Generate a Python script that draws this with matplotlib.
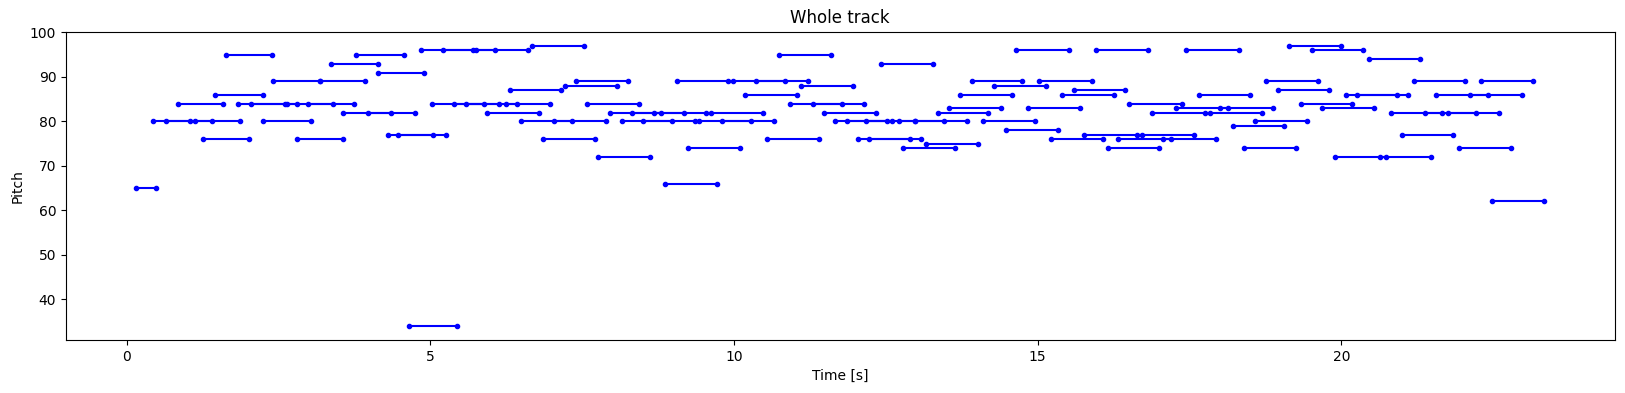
import matplotlib
matplotlib.use('Agg')
import matplotlib.pyplot as plt

# notes of the whole track: start time [s], end time [s], pitch
note_start = [
    0.16, 0.43, 0.64, 0.84, 1.12, 1.25, 1.45, 1.63, 1.84, 2.04, 2.24, 2.41, 2.64, 2.81, 2.99, 3.18,
    3.37, 3.57, 3.78, 3.97, 4.14, 4.31, 4.47, 4.65, 4.85, 5.03, 5.21, 5.39, 5.58, 5.75, 5.94, 6.25,
    6.32, 6.50, 6.68, 6.85, 7.04, 7.22, 7.40, 7.58, 7.76, 7.96, 8.15, 8.32, 8.50, 8.68, 8.87, 9.06,
    9.24, 9.42, 9.62, 9.80, 9.98, 10.18, 10.36, 10.54, 10.74, 10.92, 11.10, 11.30, 11.48, 11.66,
    11.86, 12.04, 12.18, 12.22, 12.42, 12.71, 12.78, 12.98, 13.16, 13.36, 13.54, 13.72, 13.92,
    14.10, 14.28, 14.48, 14.65, 14.84, 15.03, 15.22, 15.40, 15.59, 15.77, 15.96, 16.15, 16.33,
    16.51, 16.71, 16.89, 17.07, 17.27, 17.45, 17.65, 17.83, 18.01, 18.21, 18.39, 18.57, 18.76,
    18.95, 19.13, 19.33, 19.51, 19.68, 19.89, 20.07, 20.25, 20.45, 20.63, 20.81, 21.00, 21.19,
    21.37, 21.56, 21.75, 21.93, 22.12, 22.30, 22.48,
]
note_end = [
    0.49, 1.05, 1.40, 1.59, 1.86, 2.01, 2.24, 2.40, 2.61, 2.80, 3.04, 3.18, 3.39, 3.57, 3.75, 3.93,
    4.14, 4.36, 4.57, 4.75, 4.90, 5.05, 5.25, 5.44, 5.71, 5.89, 6.06, 6.13, 6.43, 6.61, 6.79, 6.97,
    7.15, 7.34, 7.53, 7.71, 7.89, 8.07, 8.26, 8.44, 8.62, 8.80, 8.98, 9.18, 9.36, 9.54, 9.72, 9.90,
    10.10, 10.28, 10.48, 10.66, 10.84, 11.04, 11.22, 11.40, 11.60, 11.78, 11.96, 12.14, 12.34, 12.52,
    12.60, 12.90, 12.98, 13.08, 13.27, 13.46, 13.64, 13.83, 14.01, 14.19, 14.39, 14.57, 14.75,
    14.95, 15.13, 15.33, 15.51, 15.69, 15.89, 16.07, 16.25, 16.43, 16.63, 16.81, 16.99, 17.19,
    17.37, 17.57, 17.75, 17.93, 18.13, 18.31, 18.49, 18.69, 18.87, 19.05, 19.25, 19.43, 19.61,
    19.80, 19.99, 20.17, 20.36, 20.54, 20.73, 20.92, 21.10, 21.29, 21.48, 21.66, 21.84, 22.04,
    22.22, 22.42, 22.60, 22.79, 22.98, 23.16, 23.34,
]
note_pitch = [
    65, 80, 80, 84, 80, 76, 86, 95, 84, 84, 80, 89, 84, 76, 84, 89,
    93, 82, 95, 82, 91, 77, 77, 34, 96, 84, 96, 84, 84, 96, 82, 84,
    87, 80, 97, 76, 80, 88, 89, 84, 72, 82, 80, 82, 80, 82, 66, 89,
    74, 80, 82, 80, 89, 86, 89, 76, 95, 84, 88, 84, 82, 80,
    80, 76, 80, 76, 93, 80, 74, 80, 75, 82, 83, 86, 89,
    80, 88, 78, 96, 83, 89, 76, 86, 87, 77, 96, 74, 76,
    84, 77, 82, 76, 83, 96, 86, 82, 83, 79, 74, 80, 89,
    87, 97, 84, 96, 83, 72, 86, 86, 94, 72, 82, 77, 89,
    82, 86, 82, 74, 86, 89, 62,
]

fig = plt.figure(figsize=(16.25, 3.93), dpi=100)
ax = fig.add_axes([0.0406, 0.135, 0.953, 0.784])

for s, e, p in zip(note_start, note_end, note_pitch):
    ax.plot([s, e], [p, p], color='b', marker='.')

ax.set_title('Whole track')
ax.set_xlabel('Time [s]')
ax.set_ylabel('Pitch')

fig.savefig('out.png', dpi=100)
